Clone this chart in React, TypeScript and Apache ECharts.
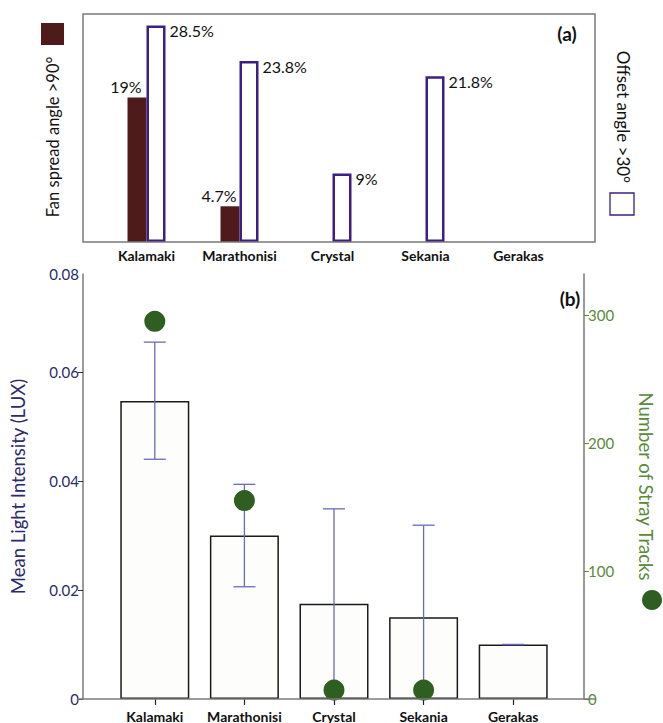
import React, { useEffect, useRef } from "react";
import * as echarts from "echarts";

const categories = ["Kalamaki", "Marathonisi", "Crystal", "Sekania", "Gerakas"];
// Panel (a)
const fanSpread = [19, 4.7, null, null, null];
const offsetAngle = [28.5, 23.8, 9, 21.8, null];
// Panel (b)
const meanLight = [0.0547, 0.030, 0.0175, 0.015, 0.010];
const errLow = [0.044, 0.0206, 0, 0, 0.010];
const errHigh = [0.0655, 0.0394, 0.0349, 0.0319, 0.010];
const strayTracks = [295, 155, 7, 7, null];
// tick values
const lightTicks = [0, 0.02, 0.04, 0.06];
const lightLabels = [0, 0.02, 0.04, 0.06, 0.078];
const trackTicks = [0, 100, 200, 300];

const FONT = "Lato, 'Open Sans', sans-serif";
const MAROON = "#4f1a1a";
const PURPLE = "#3d1e86";
const NAVY = "#2c2a6b";
const GREEN_TXT = "#5a8a3a";
const GREEN_DOT = "#2f5f20";
const ERR = "#6a6ab8";
const GREY = "#7a7a7a";

export default function App() {
  const ref = useRef<HTMLDivElement>(null);
  useEffect(() => {
    if (!ref.current) return;
    const chart = echarts.init(ref.current, null, { renderer: "svg" });
    const errData = categories.map((_, i) => [i, errLow[i], errHigh[i]]);
    chart.setOption({
      animation: false,
      textStyle: { fontFamily: FONT },
      grid: [
        { left: 100, top: 14, width: 465, height: 228 },
        { left: 110, top: 274, width: 460, height: 425 },
      ],
      xAxis: [
        {
          type: "category",
          gridIndex: 0,
          data: categories,
          axisLine: { show: false },
          axisTick: { show: false },
          axisLabel: { interval: 0, hideOverlap: false, fontFamily: FONT, fontWeight: "bold", fontSize: 14, color: "#111", margin: 6 },
        },
        {
          type: "category",
          gridIndex: 1,
          data: categories,
          axisLine: { show: false },
          axisTick: { show: true, alignWithLabel: true, length: 6, lineStyle: { color: "#222", width: 1.2 } },
          axisLabel: { interval: 0, hideOverlap: false, fontFamily: FONT, fontWeight: "bold", fontSize: 14, color: "#111", margin: 10 },
        },
      ],
      yAxis: [
        { type: "value", gridIndex: 0, min: 0, max: 30, show: false },
        {
          type: "value",
          gridIndex: 1,
          position: "left",
          offset: 27,
          min: 0,
          max: 0.078,
          interval: 0.02,
          splitLine: { show: false },
          axisLine: { show: true, lineStyle: { color: GREY, width: 1.5 } },
          axisTick: { show: true, length: 5, customValues: lightTicks, lineStyle: { color: NAVY } },
          axisLabel: {
            fontFamily: FONT,
            fontSize: 15,
            color: NAVY,
            margin: 4,
            customValues: lightLabels,
            formatter: (v: number) => (v === 0 ? "0" : v > 0.07 ? "0.08" : v.toFixed(2)),
          },
          name: "Mean Light Intensity (LUX)",
          nameLocation: "middle",
          nameRotate: 90,
          nameGap: 56,
          nameTextStyle: { fontFamily: FONT, fontSize: 18.5, color: NAVY },
        },
        {
          type: "value",
          gridIndex: 1,
          position: "right",
          offset: 26,
          min: 0,
          max: 332,
          interval: 100,
          splitLine: { show: false },
          axisLine: { show: true, lineStyle: { color: GREY, width: 1.5 } },
          axisTick: { show: true, length: 5, customValues: trackTicks, lineStyle: { color: GREEN_TXT } },
          axisLabel: {
            fontFamily: FONT,
            fontSize: 15,
            color: GREEN_TXT,
            margin: 4,
            customValues: trackTicks,
            formatter: (v: number) => (v % 100 === 0 ? String(v) : ""),
          },
          name: "Number of Stray Tracks",
          nameLocation: "middle",
          nameRotate: -90,
          nameGap: 52,
          nameTextStyle: { fontFamily: FONT, fontSize: 18.5, color: GREEN_TXT },
        },
      ],
      series: [
        {
          name: "Fan spread angle >90°",
          type: "bar",
          xAxisIndex: 0,
          yAxisIndex: 0,
          data: fanSpread,
          barWidth: 19,
          barGap: "0%",
          itemStyle: { color: MAROON },
          label: {
            show: true,
            position: "top",
            distance: 3,
            offset: [-11, 0],
            fontFamily: FONT,
            fontSize: 16,
            color: "#111",
            formatter: (p: any) => `${p.value}%`,
          },
        },
        {
          name: "Offset angle >30°",
          type: "bar",
          xAxisIndex: 0,
          yAxisIndex: 0,
          data: offsetAngle,
          barWidth: 19,
          barGap: "0%",
          itemStyle: { color: "#ffffff", borderColor: PURPLE, borderWidth: 2.5 },
          label: {
            show: true,
            position: [23, 5],
            align: "left",
            verticalAlign: "middle",
            fontFamily: FONT,
            fontSize: 16,
            color: "#111",
            formatter: (p: any) => `${p.value}%`,
          },
        },
        {
          name: "Mean Light Intensity",
          type: "bar",
          xAxisIndex: 1,
          yAxisIndex: 1,
          data: meanLight,
          barWidth: 69,
          itemStyle: { color: "#fdfdfb", borderColor: "#1a1a1a", borderWidth: 1.5 },
          z: 2,
        },
        {
          name: "Error",
          type: "custom",
          xAxisIndex: 1,
          yAxisIndex: 1,
          data: errData,
          z: 3,
          renderItem: (params: any, api: any) => {
            const x = api.value(0);
            const lo = api.coord([x, api.value(1)]);
            const hi = api.coord([x, api.value(2)]);
            const half = 11;
            const style = { stroke: ERR, lineWidth: 1.3 };
            const children: any[] = [
              { type: "line", shape: { x1: hi[0], y1: hi[1], x2: lo[0], y2: lo[1] }, style },
              { type: "line", shape: { x1: hi[0] - half, y1: hi[1], x2: hi[0] + half, y2: hi[1] }, style },
            ];
            if (api.value(1) > 0) {
              children.push({ type: "line", shape: { x1: lo[0] - half, y1: lo[1], x2: lo[0] + half, y2: lo[1] }, style });
            }
            return { type: "group", children };
          },
        },
        {
          name: "Number of Stray Tracks",
          type: "scatter",
          xAxisIndex: 1,
          yAxisIndex: 2,
          data: strayTracks,
          symbol: "circle",
          symbolSize: 21,
          itemStyle: { color: GREEN_DOT, opacity: 1 },
          z: 5,
        },
      ],
      graphic: [
        // frame of panel (a)
        { type: "rect", shape: { x: 83, y: 14, width: 512, height: 228 }, style: { fill: "none", stroke: GREY, lineWidth: 1.5 }, z: 10 },
        // bottom axis line of panel (b)
        { type: "line", shape: { x1: 77, y1: 699, x2: 596, y2: 699 }, style: { stroke: GREY, lineWidth: 1.5 }, z: 10 },
        // legend (a) left
        { type: "rect", shape: { x: 41, y: 23, width: 23, height: 22 }, style: { fill: MAROON } },
        {
          type: "text",
          x: 53,
          y: 137,
          rotation: Math.PI / 2,
          style: { text: "Fan spread angle >90°", fontFamily: FONT, fontSize: 16.5, fill: "#111", align: "center", verticalAlign: "middle" },
        },
        // legend (a) right
        { type: "rect", shape: { x: 610, y: 193, width: 24, height: 22 }, style: { fill: "#fff", stroke: PURPLE, lineWidth: 1.3 } },
        {
          type: "text",
          x: 623,
          y: 117,
          rotation: -Math.PI / 2,
          style: { text: "Offset angle >30°", fontFamily: FONT, fontSize: 17, fill: "#111", align: "center", verticalAlign: "middle" },
        },
        // panel letters
        { type: "text", x: 567, y: 33, style: { text: "(a)", fontFamily: FONT, fontSize: 19, fontWeight: "bold", fill: "#111", align: "center", verticalAlign: "middle" } },
        { type: "text", x: 570, y: 298, style: { text: "(b)", fontFamily: FONT, fontSize: 19, fontWeight: "bold", fill: "#111", align: "center", verticalAlign: "middle" } },
        // marker next to right axis name
        { type: "circle", shape: { cx: 652, cy: 600, r: 10 }, style: { fill: GREEN_DOT } },
      ],
    });
    return () => chart.dispose();
  }, []);
  return <div ref={ref} style={{ width: 663, height: 723, position: "absolute", left: 0, top: 0, background: "#fff" }} />;
}
